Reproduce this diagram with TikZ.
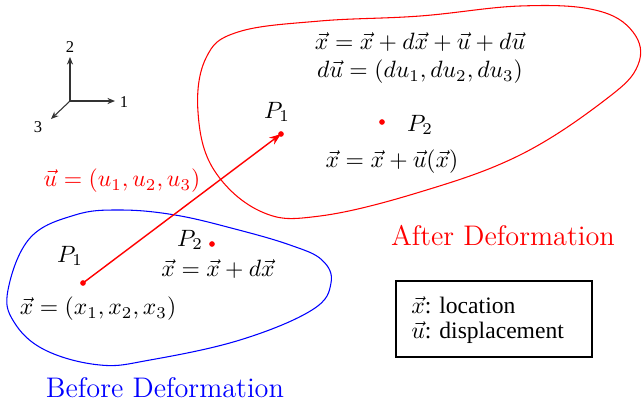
\documentclass[tikz,border=0pt]{standalone}
\usepackage{fontspec}
\newfontfamily\tms{Liberation Serif}
\usetikzlibrary{arrows.meta}
\begin{document}
\begin{tikzpicture}[x=0.4237pt,y=-0.4237pt,
  dotnode/.style={circle,fill=red,inner sep=0pt,minimum size=2.4pt},
  axisarrow/.style={draw=black!80,line width=0.45pt,-{Stealth[length=3.2pt,width=2.6pt]}},
  axislabel/.style={font=\tms\fontsize{7}{8}\selectfont,inner sep=0pt},
  lbl/.style={inner sep=0pt},
  blob/.style={line width=0.45pt}]
\useasboundingbox (0,0) rectangle (643,408);
% axes
\coordinate (o) at (70,101);
\coordinate (a2) at (70,57);
\coordinate (a1) at (115,101);
\coordinate (a3) at (51,119);
\draw[axisarrow] (o) -- (a2);
\draw[axisarrow] (o) -- (a1);
\draw[axisarrow] (o) -- (a3);
\node[axislabel] (l2) at (70,47) {2};
\node[axislabel] (l1) at (124,102) {1};
\node[axislabel] (l3) at (38,127) {3};
% blue blob
\draw[blob,blue] plot[smooth cycle,tension=0.65] coordinates {
 (8,290) (30,238) (75,215) (120,210) (175,215) (235,229) (290,245)
 (322,260) (331,283) (312,310) (240,340) (150,360) (100,365) (45,350) (14,322)};
% red blob
\draw[blob,red] plot[smooth cycle,tension=0.65] coordinates {
 (198,112) (206,58) (238,32) (320,21) (420,16) (520,6) (595,10) (633,32)
 (638,65) (605,100) (520,155) (420,192) (320,216) (262,212) (214,170)};
% points
\node[dotnode] (p1b) at (83,283) {};
\node[dotnode] (p2b) at (212,244) {};
\node[dotnode] (p1a) at (281,134) {};
\node[dotnode] (p2a) at (382,122) {};
\draw[red,line width=0.6pt,-{Stealth[length=5pt,width=3.6pt]}] (p1b.center) -- (p1a.center);
% labels
\node[lbl] (t1) at (70,256) {$P_1$};
\node[lbl] (t2) at (98,309) {$\vec{x}=(x_1,x_2,x_3)$};
\node[lbl] (t3) at (190,240) {$P_2$};
\node[lbl] (t4) at (218,269) {$\vec{x}=\vec{x}+d\vec{x}$};
\node[lbl,red] (t5) at (122,181) {$\vec{u}=(u_1,u_2,u_3)$};
\node[lbl] (t6) at (277,112) {$P_1$};
\node[lbl] (t7) at (420,125) {$P_2$};
\node[lbl] (t8) at (392,162) {$\vec{x}=\vec{x}+\vec{u}(\vec{x})$};
\node[lbl] (t9) at (420,42) {$\vec{x}=\vec{x}+d\vec{x}+\vec{u}+d\vec{u}$};
\node[lbl] (t10) at (420,72) {$d\vec{u}=(du_1,du_2,du_3)$};
\node[lbl,red,font=\large] (t11) at (503,236) {After Deformation};
\node[lbl,blue,font=\large] (t12) at (165,388) {Before Deformation};
% legend box
\node[draw,line width=0.6pt,minimum width=83pt,minimum height=32.2pt,inner sep=0pt] (box) at (494,319) {};
\node[lbl,anchor=west] (b1) at (411,305) {$\vec{x}$\tms: location};
\node[lbl,anchor=west] (b2) at (411,333) {$\vec{u}$\tms: displacement};
\end{tikzpicture}
\end{document}
